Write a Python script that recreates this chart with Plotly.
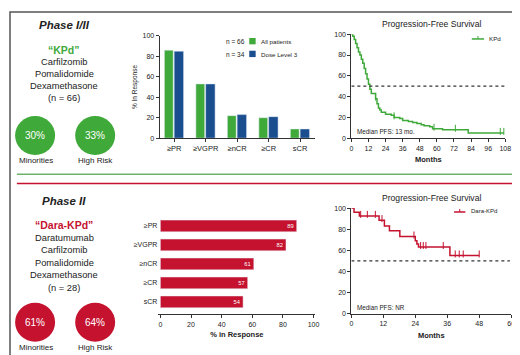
import numpy as np
import plotly.graph_objects as go

# ---------------- data ----------------
resp_categories = ["≥PR", "≥VGPR", "≥nCR", "≥CR", "sCR"]
kpd_all_patients = [86, 53, 22, 20, 9]
kpd_dose_level3 = [85, 53, 23, 21, 9]
dara_kpd_response = [89, 82, 61, 57, 54]

kpd_pfs_time = [0, 1, 2, 3, 4, 5, 6, 7, 8, 9, 10, 11, 12, 13, 14, 17, 18, 19, 20, 21, 24, 28, 30, 34, 36, 40, 43, 46, 49, 51, 55, 57, 64, 82]
kpd_pfs_surv = [100, 98, 95, 91, 87, 83, 80, 76, 72, 67, 62, 57, 52, 47, 43, 38, 33, 29, 27, 25, 23, 22, 20, 19, 17, 16, 15, 14, 13, 12, 11, 9, 8, 5]
kpd_pfs_end = 107
kpd_censor = [17, 30, 58, 73, 104.5, 107]

dara_pfs_time = [0, 1, 3, 10.4, 12.4, 14.3, 18.2, 24, 24.6, 25.2, 37]
dara_pfs_surv = [100, 96, 92.5, 88.5, 83, 78.5, 73, 69, 66, 63, 55]
dara_pfs_end = 48
dara_censor = [3.5, 6, 9, 11.5, 23.5, 26, 27, 28, 34.5, 39, 40.5, 42, 48]

kpd_xticks = [0, 12, 24, 36, 48, 60, 72, 84, 96, 108]
dara_xticks = [0, 12, 24, 36, 48, 60]

# ---------------- style ----------------
W, H = 520, 355
GREEN = "#3fa93a"
BLUE = "#1b4e8e"
RED = "#c4122f"
AX = "#333333"
TXT = "#222222"
FONT = "Liberation Sans, Arial, Helvetica, sans-serif"


def px(x):
    return x / W


def py(y):
    return 1 - y / H


def step_value(times, surv, t):
    i = np.searchsorted(np.array(times), t, side="right") - 1
    return surv[max(i, 0)]


fig = go.Figure()

# ---- top grouped bars ----
fig.add_trace(go.Bar(x=resp_categories, y=kpd_all_patients, marker_color=GREEN,
                     width=0.28, offset=-0.31, xaxis="x", yaxis="y", showlegend=False))
fig.add_trace(go.Bar(x=resp_categories, y=kpd_dose_level3, marker_color=BLUE,
                     width=0.30, offset=0.0, xaxis="x", yaxis="y", showlegend=False))

# ---- top KM ----
fig.add_trace(go.Scatter(x=kpd_pfs_time + [kpd_pfs_end], y=kpd_pfs_surv + [kpd_pfs_surv[-1]],
                         mode="lines", line=dict(color=GREEN, width=1.5, shape="hv"),
                         xaxis="x2", yaxis="y2", showlegend=False))
fig.add_trace(go.Scatter(x=kpd_censor, y=[step_value(kpd_pfs_time, kpd_pfs_surv, t) + 1.5 for t in kpd_censor],
                         mode="markers", marker=dict(symbol="line-ns", size=5, line=dict(color=GREEN, width=1)),
                         xaxis="x2", yaxis="y2", showlegend=False))

# ---- bottom horizontal bars ----
fig.add_trace(go.Bar(y=resp_categories, x=dara_kpd_response, orientation="h", marker_color=RED,
                     width=0.62, text=[str(v) for v in dara_kpd_response], textposition="inside",
                     insidetextanchor="end", textfont=dict(color="white", size=7, family=FONT),
                     xaxis="x3", yaxis="y3", showlegend=False))

# ---- bottom KM ----
fig.add_trace(go.Scatter(x=dara_pfs_time + [dara_pfs_end], y=dara_pfs_surv + [dara_pfs_surv[-1]],
                         mode="lines", line=dict(color=RED, width=1.5, shape="hv"),
                         xaxis="x4", yaxis="y4", showlegend=False))
fig.add_trace(go.Scatter(x=dara_censor, y=[step_value(dara_pfs_time, dara_pfs_surv, t) + 1.5 for t in dara_censor],
                         mode="markers", marker=dict(symbol="line-ns", size=5, line=dict(color=RED, width=1)),
                         xaxis="x4", yaxis="y4", showlegend=False))

axis_common = dict(showline=True, linecolor=AX, linewidth=1, ticks="outside", ticklen=3,
                   tickcolor=AX, tickwidth=1, showgrid=False, zeroline=False,
                   tickfont=dict(size=7, color=TXT, family=FONT), fixedrange=True)

fig.update_layout(
    width=W, height=H, margin=dict(l=0, r=0, t=0, b=0),
    paper_bgcolor="white", plot_bgcolor="white", barmode="overlay",
    font=dict(family=FONT, color=TXT),
    xaxis=dict(axis_common, domain=[px(152), px(310)], range=[-0.46, 4.48], anchor="y",
               tickfont=dict(size=7.5, color=TXT, family=FONT)),
    yaxis=dict(axis_common, domain=[py(128.7), py(24.3)], range=[0, 100], anchor="x",
               tickvals=[0, 20, 40, 60, 80, 100],
               title=dict(text="% In Response", font=dict(size=6.5, color=TXT), standoff=4)),
    xaxis2=dict(axis_common, domain=[px(346.7), px(503)], range=[0, 108], anchor="y2",
                tickvals=kpd_xticks,
                title=dict(text="<b>Months</b>", font=dict(size=7.5, color=TXT), standoff=6)),
    yaxis2=dict(axis_common, domain=[py(128.7), py(22.7)], range=[0, 100], anchor="x2",
                tickvals=[0, 20, 40, 60, 80, 100]),
    xaxis3=dict(axis_common, domain=[px(150.7), px(310)], range=[-1.3, 101.1], anchor="y3",
                tickvals=[0, 20, 40, 60, 80, 100],
                title=dict(text="<b>% in Response</b>", font=dict(size=7.5, color=TXT), standoff=5)),
    yaxis3=dict(axis_common, domain=[py(308.3), py(208.6)], range=[4.65, -0.5], anchor="x3",
                showline=False, ticks="", tickfont=dict(size=7, color=TXT, family=FONT)),
    xaxis4=dict(axis_common, domain=[px(346.7), px(509)], range=[0, 60], anchor="y4",
                tickvals=dara_xticks,
                title=dict(text="<b>Months</b>", font=dict(size=7.5, color=TXT), standoff=6)),
    yaxis4=dict(axis_common, domain=[py(307.7), py(200)], range=[0, 100], anchor="x4",
                tickvals=[0, 20, 40, 60, 80, 100]),
)

shapes = []
# outer border
shapes.append(dict(type="rect", xref="paper", yref="paper", x0=0, x1=1, y0=0, y1=1,
                   line=dict(color="#555555", width=1.5)))
# separators
shapes.append(dict(type="line", xref="paper", yref="paper", x0=px(7), x1=px(513), y0=py(165.5), y1=py(165.5),
                   line=dict(color="#6db36a", width=1.5)))
shapes.append(dict(type="line", xref="paper", yref="paper", x0=px(7), x1=px(513), y0=py(175), y1=py(175),
                   line=dict(color=RED, width=1.5)))
# median dotted lines
shapes.append(dict(type="line", xref="x2", yref="y2", x0=0, x1=111, y0=50, y1=50,
                   line=dict(color=AX, width=1.3, dash="dot")))
shapes.append(dict(type="line", xref="x4", yref="y4", x0=0, x1=59.5, y0=50, y1=50,
                   line=dict(color=AX, width=1.3, dash="dot")))


def circle(cx, cy, color, r=20):
    return dict(type="circle", xref="paper", yref="paper", xsizemode="pixel", ysizemode="pixel",
                xanchor=px(cx), yanchor=py(cy), x0=-r, x1=r, y0=-r * 0.97, y1=r * 0.97,
                fillcolor=color, line=dict(width=0))


shapes += [circle(25.5, 126, GREEN), circle(86.5, 126, GREEN),
           circle(25.5, 316.5, RED), circle(86.5, 316.5, RED)]

# legend squares (top bars)
shapes.append(dict(type="rect", xref="paper", yref="paper", x0=px(243), x1=px(249.5), y0=py(33), y1=py(26.5),
                   fillcolor=GREEN, line=dict(width=0)))
shapes.append(dict(type="rect", xref="paper", yref="paper", x0=px(243), x1=px(249.5), y0=py(46), y1=py(39.5),
                   fillcolor=BLUE, line=dict(width=0)))
# KM legend samples
for (x0, x1, yy, col) in [(469, 481.5, 27.5, GREEN), (451, 462.5, 204, RED)]:
    shapes.append(dict(type="line", xref="paper", yref="paper", x0=px(x0), x1=px(x1), y0=py(yy), y1=py(yy),
                       line=dict(color=col, width=1.5)))
    xm = (x0 + x1) / 2
    shapes.append(dict(type="line", xref="paper", yref="paper", x0=px(xm), x1=px(xm), y0=py(yy), y1=py(yy - 3),
                       line=dict(color=col, width=1)))

fig.update_layout(shapes=shapes)

ann = []


def text(x, y, s, size, color=TXT, xanchor="center"):
    ann.append(dict(x=px(x), y=py(y), xref="paper", yref="paper", text=s, showarrow=False,
                    xanchor=xanchor, yanchor="middle", font=dict(size=size, color=color, family=FONT)))


# top left block
text(55, 13, "<b><i>Phase I/II</i></b>", 11.5)
text(55, 38.5, "<b>“KPd”</b>", 10.5, GREEN)
for i, s in enumerate(["Carfilzomib", "Pomalidomide", "Dexamethasone", "(n = 66)"]):
    text(55, 50.7 + i * 12.4, s, 9.3)
text(25.5, 126, "30%", 10, "white")
text(86.5, 126, "33%", 10, "white")
text(26.5, 151, "Minorities", 8)
text(86.5, 151, "High Risk", 8)

# bottom left block
text(55, 192.5, "<b><i>Phase II</i></b>", 11.5)
text(55, 217.5, "<b>“Dara-KPd”</b>", 10.5, RED)
for i, s in enumerate(["Daratumumab", "Carfilzomib", "Pomalidomide", "Dexamethasone", "(n = 28)"]):
    text(55, 230.3 + i * 12.75, s, 9.3)
text(25.5, 316.5, "61%", 10, "white")
text(86.5, 316.5, "64%", 10, "white")
text(26.5, 342.5, "Minorities", 8)
text(86.5, 342.5, "High Risk", 8)

# top bar legend
text(217, 30, "n = 66", 6.5, xanchor="left")
text(217, 43, "n = 34", 6.5, xanchor="left")
text(253, 30, "All patients", 6.2, xanchor="left")
text(253, 43, "Dose Level 3", 6.2, xanchor="left")

# KM titles and annotations
text(428, 12, "Progression-Free Survival", 8.6)
text(484, 27, "KPd", 6.2, xanchor="left")
text(350, 122, "Median PFS: 13 mo.", 6.3, xanchor="left")
text(428, 190, "Progression-Free Survival", 8.6)
text(466, 203.5, "Dara-KPd", 6, xanchor="left")
text(350, 301, "Median PFS: NR", 6.3, xanchor="left")

fig.update_layout(annotations=ann)

fig.write_html("out.html")
